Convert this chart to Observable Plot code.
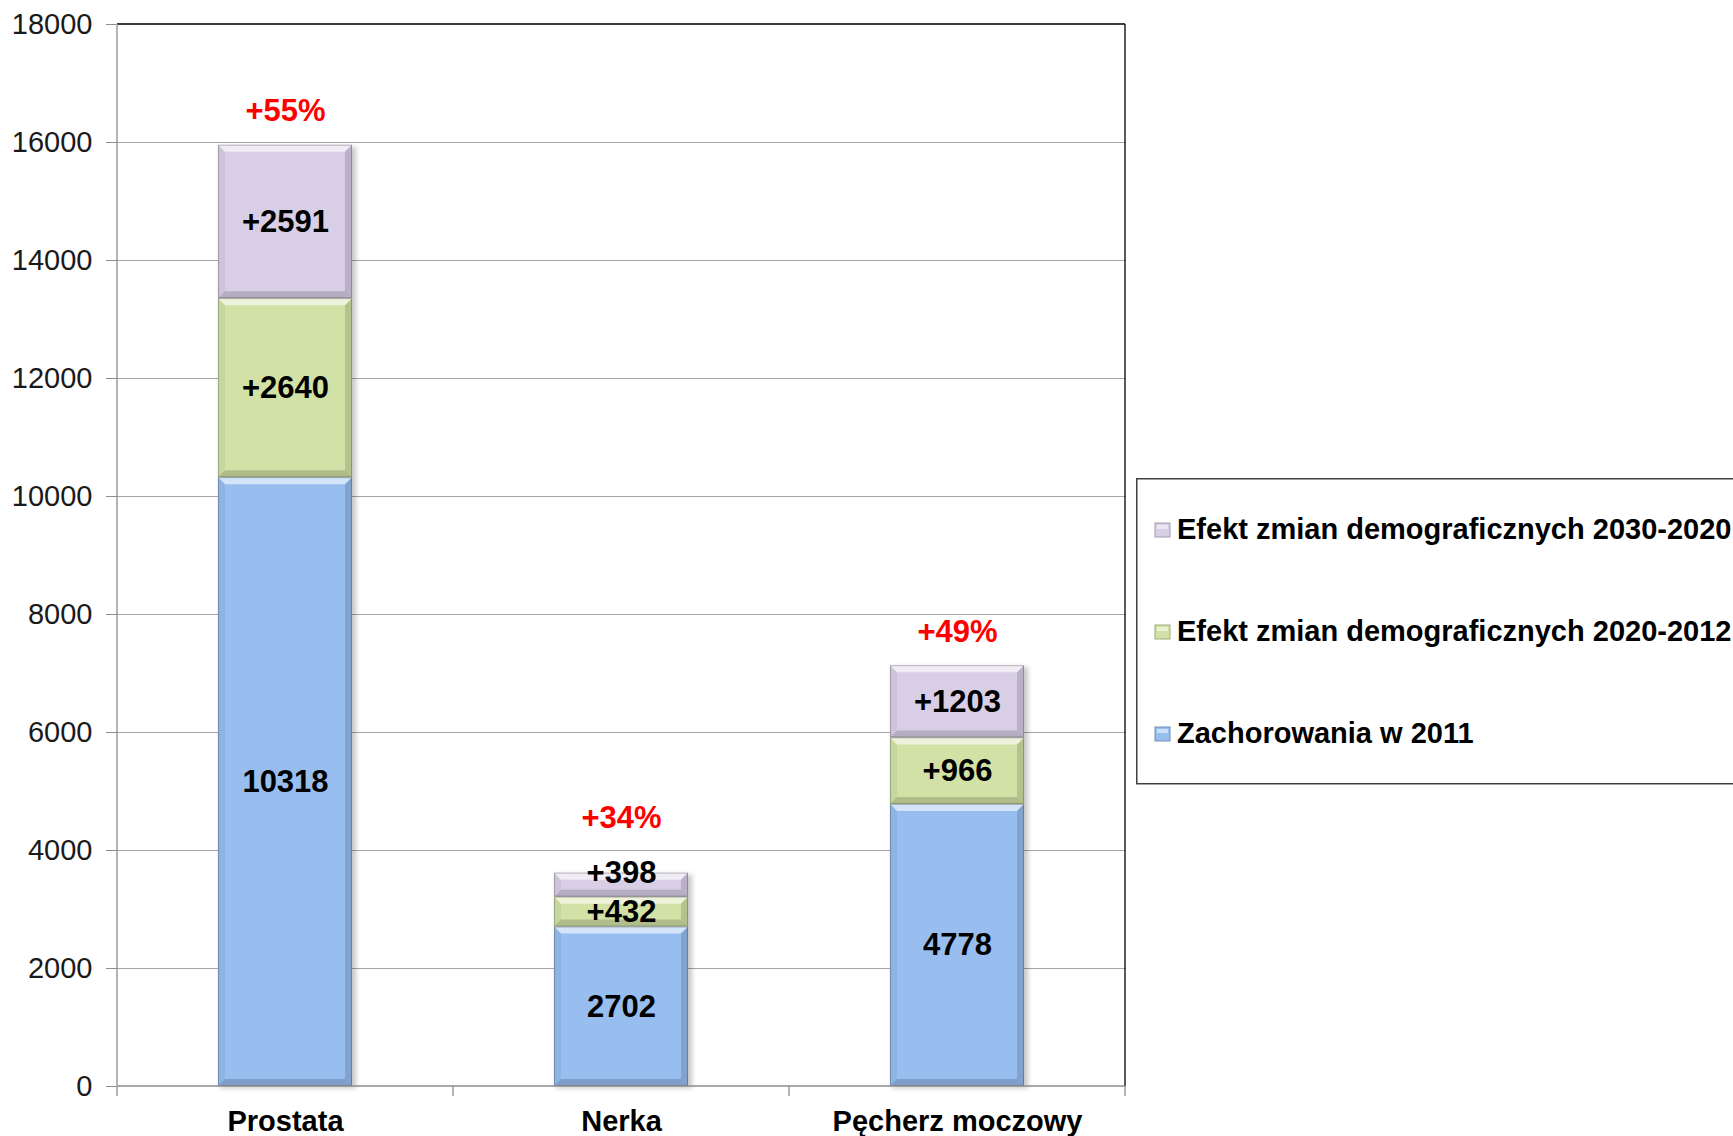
<!DOCTYPE html>
<html>
<head>
<meta charset="utf-8">
<script src="https://cdn.jsdelivr.net/npm/d3@7"></script>
<script src="https://cdn.jsdelivr.net/npm/@observablehq/plot@0.6"></script>
<style>
  html, body { margin: 0; padding: 0; background: #fff; overflow: hidden; }
  #wrap { position: relative; width: 1733px; height: 1136px; font-family: "Liberation Sans", Arial, sans-serif; }
  #chart { position: absolute; left: 0; top: 0; }
  #legend { position: absolute; left: 1136px; top: 478px; }
</style>
</head>
<body>
<div id="wrap">
  <div id="chart"></div>
  <svg id="legend" width="597" height="308"></svg>
</div>
<script>
// ---------- data ----------
const categories = ["Prostata", "Nerka", "Pęcherz moczowy"];
const seriesNames = [
  "Zachorowania w 2011",
  "Efekt zmian demograficznych 2020-2012",
  "Efekt zmian demograficznych 2030-2020"
];
// segment heights as drawn in the picture
const cases2011 = [10318, 2702, 4778];
const effect2020 = [3035, 507, 1130];
const effect2030 = [2600, 407, 1225];
// printed data labels
const labels2011 = ["10318", "2702", "4778"];
const labels2020 = ["+2640", "+432", "+966"];
const labels2030 = ["+2591", "+398", "+1203"];
const growthLabels = ["+55%", "+34%", "+49%"];
const yTicks = [0, 2000, 4000, 6000, 8000, 10000, 12000, 14000, 16000, 18000];
const seriesColors = ["#97BEEF", "#D2E2A6", "#D8CFE6"];

// ---------- derived table ----------
const seriesValues = [cases2011, effect2020, effect2030];
const seriesLabels = [labels2011, labels2020, labels2030];
const rows = [];
const totals = [];
categories.forEach((cat, i) => {
  let acc = 0;
  seriesNames.forEach((s, k) => {
    const v = seriesValues[k][i];
    rows.push({cat, series: s, k, value: v, y1: acc, y2: acc + v, mid: acc + v / 2, label: seriesLabels[k][i], small: v < 450});
    acc += v;
  });
  totals.push({cat, total: acc, label: growthLabels[i], raised: rows[rows.length - 1].small});
});

const FONT = "Liberation Sans, Arial, sans-serif";

function getX(scales) {
  const sx = scales.x;
  const bw = typeof sx.bandwidth === "function" ? sx.bandwidth() : scales.scales.x.bandwidth;
  const step = typeof sx.step === "function" ? sx.step() : scales.scales.x.step;
  return {sx, bw, step};
}

// soft shadow behind bars
function shadowMark(index, scales) {
  const {sx, bw} = getX(scales);
  const sy = scales.y;
  const g = d3.create("svg:g");
  totals.forEach(t => {
    const x0 = sx(t.cat);
    g.append("rect")
      .attr("x", x0 + 2).attr("y", sy(t.total) + 2)
      .attr("width", bw + 2).attr("height", sy(0) - sy(t.total))
      .attr("fill", "#000").attr("fill-opacity", 0.22)
      .style("filter", "blur(2.5px)");
  });
  return g.node();
}

// bevel overlays on each segment
function bevelMark(index, scales) {
  const {sx, bw} = getX(scales);
  const sy = scales.y;
  const b = 7;
  const g = d3.create("svg:g");
  rows.forEach(r => {
    const x0 = sx(r.cat), x1 = x0 + bw;
    const yT = sy(r.y2), yB = sy(r.y1);
    const bb = Math.min(b, (yB - yT) / 2.5);
    const poly = (pts, fill, op) => g.append("polygon")
      .attr("points", pts.map(p => p.join(",")).join(" "))
      .attr("fill", fill).attr("fill-opacity", op);
    poly([[x0, yT], [x1, yT], [x1 - bb, yT + bb], [x0 + bb, yT + bb]], "#ffffff", 0.6);
    poly([[x0, yB], [x1, yB], [x1 - bb, yB - bb], [x0 + bb, yB - bb]], "#000000", 0.16);
    poly([[x0, yT], [x0 + bb, yT + bb], [x0 + bb, yB - bb], [x0, yB]], "#000000", 0.05);
    poly([[x1, yT], [x1 - bb, yT + bb], [x1 - bb, yB - bb], [x1, yB]], "#000000", 0.14);
    g.append("rect").attr("x", x0 + 0.5).attr("y", yT + 0.5)
      .attr("width", bw - 1).attr("height", Math.max(0, yB - yT - 1))
      .attr("fill", "none").attr("stroke", "#000").attr("stroke-opacity", 0.22);
  });
  return g.node();
}

// plot-area border and category boundary ticks
function chromeMark(index, scales) {
  const {sx, bw, step} = getX(scales);
  const sy = scales.y;
  const g = d3.create("svg:g");
  const left = sx(categories[0]) - (step - bw) / 2;
  const right = left + step * categories.length;
  const top = sy(18000), bottom = sy(0);
  const line = (x1, y1, x2, y2, c) => g.append("line")
    .attr("x1", x1).attr("y1", y1).attr("x2", x2).attr("y2", y2)
    .attr("stroke", c).attr("stroke-width", 1.3);
  line(left, top, right, top, "#000");
  line(right, top, right, bottom, "#000");
  line(left, top, left, bottom, "#8c8c8c");
  line(left, bottom, right, bottom, "#8c8c8c");
  for (let i = 0; i <= categories.length; i++) {
    const xb = left + i * step;
    line(xb, bottom, xb, bottom + 10, "#8c8c8c");
  }
  return g.node();
}

const plot = Plot.plot({
  width: 1733,
  height: 1136,
  marginLeft: 116,
  marginRight: 607,
  marginTop: 24,
  marginBottom: 50,
  style: {fontFamily: FONT, background: "transparent", overflow: "visible"},
  x: {domain: categories, paddingInner: 0.6, paddingOuter: 0.3, label: null},
  y: {domain: [0, 18000], label: null},
  color: {domain: seriesNames, range: seriesColors},
  marks: [
    Plot.gridY(yTicks.filter(t => t > 0 && t < 18000), {stroke: "#a6a6a6", strokeOpacity: 1, strokeWidth: 1.2}),
    Plot.axisY(yTicks, {tickSize: 10, tickPadding: 14, fontSize: 29, fill: "#1a1a1a", stroke: "#8c8c8c", tickFormat: d => String(d), label: null}),
    Plot.axisX({tickSize: 0, tickPadding: 24, fontSize: 29, fontWeight: "bold", fill: "#000", label: null}),
    shadowMark,
    Plot.barY(rows, {x: "cat", y1: "y1", y2: "y2", fill: "series"}),
    bevelMark,
    chromeMark,
    Plot.text(rows.filter(r => !r.small), {x: "cat", y: "mid", text: "label", fontSize: 31, fontWeight: "bold", fill: "#000"}),
    Plot.text(rows.filter(r => r.small), {x: "cat", y: "mid", text: "label", fontSize: 31, fontWeight: "bold", fill: "#000", dy: -12}),
    Plot.text(totals.filter(t => !t.raised), {x: "cat", y: "total", text: "label", fontSize: 31, fontWeight: "bold", fill: "#ff0000", dy: -34}),
    Plot.text(totals.filter(t => t.raised), {x: "cat", y: "total", text: "label", fontSize: 31, fontWeight: "bold", fill: "#ff0000", dy: -55})
  ]
});
document.getElementById("chart").appendChild(plot);

// ---------- legend ----------
const lg = d3.select("#legend");
lg.append("rect").attr("x", 0.75).attr("y", 0.75).attr("width", 720).attr("height", 305)
  .attr("fill", "#fff").attr("stroke", "#404040").attr("stroke-width", 1.5);
const legendOrder = [2, 1, 0];
const baselines = [61, 163, 265];
legendOrder.forEach((k, j) => {
  const yb = baselines[j];
  const c = d3.color(seriesColors[k]);
  lg.append("rect").attr("x", 19).attr("y", yb - 16).attr("width", 15).attr("height", 14)
    .attr("fill", seriesColors[k]).attr("stroke", c.darker(0.8)).attr("stroke-width", 1);
  lg.append("rect").attr("x", 21).attr("y", yb - 14).attr("width", 11).attr("height", 4)
    .attr("fill", "#fff").attr("fill-opacity", 0.5);
  lg.append("text").attr("x", 41).attr("y", yb)
    .attr("font-family", FONT).attr("font-size", 29).attr("font-weight", "bold").attr("fill", "#000")
    .text(seriesNames[k]);
});
</script>
</body>
</html>
